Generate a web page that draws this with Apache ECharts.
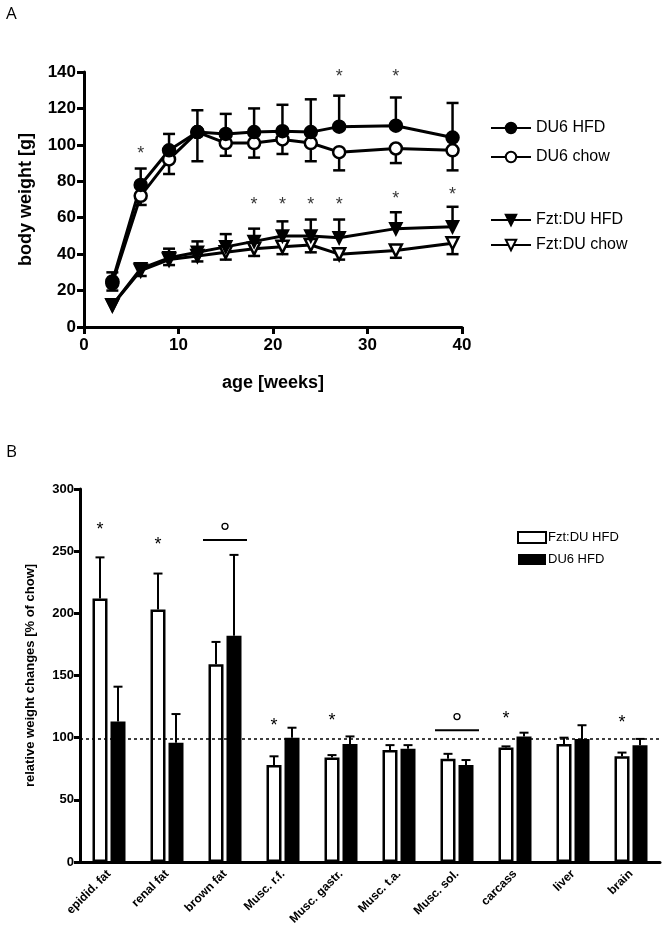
<!DOCTYPE html>
<html>
<head>
<meta charset="utf-8">
<script src="https://cdn.jsdelivr.net/npm/echarts@6/dist/echarts.min.js"></script>
<style>html,body{margin:0;padding:0;background:#fff;}#c{width:670px;height:947px;}</style>
</head>
<body>
<div id="c"></div>
<script>
// ---- Panel A data ----
const weeks = [3, 6, 9, 12, 15, 18, 21, 24, 27, 33, 39];
const du6Hfd = [25, 78, 97, 107, 106, 107, 107.5, 107, 110, 110.5, 104];
const du6HfdErrTop = [30, 87, 106, 119, 117, 120, 122, 125, 127, 126, 123];
const du6Chow = [24, 72, 92, 107, 101, 101, 103, 101, 96, 98, 97];
const du6ChowErrBottom = [20, 67, 84, 91, 94, 93, 95, 91, 86, 90, 86];
const fztHfd = [12, 32, 38, 41, 44, 47, 50, 50, 49, 54, 55];
const fztHfdErrTop = [12, 34, 43, 47, 51, 54, 58, 59, 59, 63, 66];
const fztChow = [12, 31, 37, 39, 41, 43, 44, 45, 40, 42, 46];
const fztChowErrBottom = [12, 28, 34, 36, 37, 39, 40, 41, 37, 38, 40];
const starsA = [[6, 95], [27, 137], [33, 137], [18, 67], [21, 67], [24, 67], [27, 67], [33, 70], [39, 72.5]];

// ---- Panel B data ----
const organs = ['epidid. fat', 'renal fat', 'brown fat', 'Musc. r.f.', 'Musc. gastr.', 'Musc. t.a.', 'Musc. sol.', 'carcass', 'liver', 'brain'];
const fztRel = [212, 203, 159, 78, 84, 90, 83, 92, 95, 85];
const fztRelErr = [245, 232, 177, 85, 86, 94, 87, 93, 100, 88];
const du6Rel = [113, 96, 182, 100, 95, 91, 78, 101, 99, 94];
const du6RelErr = [141, 119, 247, 108, 101, 94, 82, 104, 110, 99];
const starsB = [[0, 267, -1], [1, 255, -1], [3, 109, -1], [4, 113, -1], [7, 115, -1], [9, 112, -1]];
const brackets = [[2, 259], [6, 106]];
const circlesB = [[2, 270], [6, 117]];
const refLevel = 99;

const FONT = 'Liberation Sans, Arial, sans-serif';
const chart = echarts.init(document.getElementById('c'), null, {renderer: 'canvas'});

function errA(params, api) {
  const x = api.value(0), v = api.value(1), e = api.value(2);
  if (e === v) return null;
  const p0 = api.coord([x, v]), p1 = api.coord([x, e]);
  return {type: 'group', children: [
    {type: 'line', shape: {x1: p0[0], y1: p0[1], x2: p1[0], y2: p1[1]}, style: {stroke: '#000', lineWidth: 2.5}},
    {type: 'line', shape: {x1: p1[0] - 6, y1: p1[1], x2: p1[0] + 6, y2: p1[1]}, style: {stroke: '#000', lineWidth: 2.5}}
  ]};
}
function errB(params, api) {
  const c = api.value(0), v = api.value(1), e = api.value(2), side = api.value(3);
  const p0 = api.coord([c, v]), p1 = api.coord([c, e]);
  const off = side * 9;
  const x = p0[0] + off;
  return {type: 'group', children: [
    {type: 'line', shape: {x1: x, y1: p0[1], x2: x, y2: p1[1]}, style: {stroke: '#000', lineWidth: 2}},
    {type: 'line', shape: {x1: x - 4.5, y1: p1[1], x2: x + 4.5, y2: p1[1]}, style: {stroke: '#000', lineWidth: 2}}
  ]};
}
function bracketB(params, api) {
  const c = api.value(0), v = api.value(1);
  const p = api.coord([c, v]);
  return {type: 'line', shape: {x1: p[0] - 22, y1: p[1], x2: p[0] + 22, y2: p[1]}, style: {stroke: '#000', lineWidth: 2}};
}
const zipA = (a, b) => weeks.map((w, i) => [w, a[i], b[i]]);

const lineStyleA = {color: '#000', width: 3};
function lineSeries(name, data, symbol, filled, rotate, size) {
  return {
    type: 'line', name: name, xAxisIndex: 0, yAxisIndex: 0,
    data: weeks.map((w, i) => [w, data[i]]),
    symbol: symbol, symbolSize: size, symbolRotate: rotate, showAllSymbol: true,
    lineStyle: lineStyleA,
    itemStyle: {color: filled ? '#000' : '#fff', borderColor: '#000', borderWidth: 2.5, opacity: 1},
    z: 5, animation: false
  };
}

const axisLineStyle = {lineStyle: {color: '#000', width: 3}};
const option = {
  backgroundColor: '#fff',
  animation: false,
  textStyle: {fontFamily: FONT, color: '#000'},
  graphic: [
    {type: 'text', left: 6, top: 6, style: {text: 'A', font: '17px "Open Sans", sans-serif', fill: '#000'}},
    {type: 'text', left: 6, top: 444, style: {text: 'B', font: '17px "Open Sans", sans-serif', fill: '#000'}}
  ],
  grid: [
    {left: 84, top: 72, width: 378, height: 255},
    {left: 80, top: 489, width: 580, height: 373}
  ],
  legend: [
    {
      left: 490, top: 120, orient: 'vertical', itemGap: 13, itemWidth: 40, itemHeight: 13, padding: 0,
      textStyle: {fontFamily: FONT, fontSize: 16, color: '#000'},
      data: ['DU6 HFD', 'DU6 chow']
    },
    {
      left: 490, top: 212, orient: 'vertical', itemGap: 9, itemWidth: 40, itemHeight: 13, padding: 0,
      textStyle: {fontFamily: FONT, fontSize: 16, color: '#000'},
      data: ['Fzt:DU HFD', 'Fzt:DU chow']
    },
    {
      left: 517, top: 531, orient: 'vertical', itemGap: 9, itemWidth: 28, itemHeight: 11, icon: 'rect', padding: 0,
      textStyle: {fontFamily: FONT, fontSize: 13, color: '#000', padding: [0, 0, 0, -3]},
      data: ['Fzt:DU HFD ', 'DU6 HFD ']
    }
  ],
  xAxis: [
    {
      gridIndex: 0, type: 'value', min: 0, max: 40, interval: 10,
      axisLine: axisLineStyle, axisTick: {length: 7, lineStyle: {width: 3, color: '#000'}},
      axisLabel: {fontFamily: FONT, fontSize: 17, fontWeight: 'bold', color: '#000', margin: 10},
      splitLine: {show: false},
      name: 'age [weeks]', nameLocation: 'middle', nameGap: 47,
      nameTextStyle: {fontFamily: FONT, fontSize: 18, fontWeight: 'bold', color: '#000'}
    },
    {
      gridIndex: 1, type: 'category', data: organs, boundaryGap: true,
      axisLine: axisLineStyle, axisTick: {alignWithLabel: true, length: 6, lineStyle: {width: 3, color: '#000'}},
      axisLabel: {fontFamily: FONT, fontSize: 12, fontWeight: 'bold', color: '#000', rotate: 45, margin: 10, interval: 0},
      splitLine: {show: false}
    }
  ],
  yAxis: [
    {
      gridIndex: 0, type: 'value', min: 0, max: 140, interval: 20,
      axisLine: {show: true, lineStyle: {color: '#000', width: 3}}, axisTick: {show: true, length: 7, lineStyle: {width: 3, color: '#000'}},
      axisLabel: {fontFamily: FONT, fontSize: 17, fontWeight: 'bold', color: '#000', margin: 8},
      splitLine: {show: false},
      name: 'body weight [g]', nameLocation: 'middle', nameGap: 49, nameRotate: 90,
      nameTextStyle: {fontFamily: FONT, fontSize: 18, fontWeight: 'bold', color: '#000'}
    },
    {
      gridIndex: 1, type: 'value', min: 0, max: 300, interval: 50,
      axisLine: {show: true, lineStyle: {color: '#000', width: 3}}, axisTick: {show: true, length: 6, lineStyle: {width: 3, color: '#000'}},
      axisLabel: {fontFamily: FONT, fontSize: 13, fontWeight: 'bold', color: '#000', margin: 6},
      splitLine: {show: false},
      name: 'relative weight changes [% of chow]', nameLocation: 'middle', nameGap: 43, nameRotate: 90,
      nameTextStyle: {fontFamily: FONT, fontSize: 13, fontWeight: 'bold', color: '#000'}
    }
  ],
  series: [
    {type: 'custom', xAxisIndex: 0, yAxisIndex: 0, renderItem: errA, data: zipA(du6Hfd, du6HfdErrTop), z: 2, silent: true},
    {type: 'custom', xAxisIndex: 0, yAxisIndex: 0, renderItem: errA, data: zipA(du6Chow, du6ChowErrBottom), z: 2, silent: true},
    {type: 'custom', xAxisIndex: 0, yAxisIndex: 0, renderItem: errA, data: zipA(fztHfd, fztHfdErrTop), z: 2, silent: true},
    {type: 'custom', xAxisIndex: 0, yAxisIndex: 0, renderItem: errA, data: zipA(fztChow, fztChowErrBottom), z: 2, silent: true},
    lineSeries('DU6 chow', du6Chow, 'circle', false, 0, 12),
    lineSeries('DU6 HFD', du6Hfd, 'circle', true, 0, 12),
    lineSeries('Fzt:DU chow', fztChow, 'triangle', false, 180, 12),
    lineSeries('Fzt:DU HFD', fztHfd, 'triangle', true, 180, 11),
    {
      type: 'scatter', xAxisIndex: 0, yAxisIndex: 0, data: starsA, symbolSize: 0,
      label: {show: true, formatter: '*', position: 'inside', fontFamily: FONT, fontSize: 18, color: '#000'}, z: 6
    },
    // Panel B
    {
      type: 'bar', name: 'Fzt:DU HFD ', xAxisIndex: 1, yAxisIndex: 1, data: fztRel,
      barWidth: 15, barGap: '20%',
      itemStyle: {color: '#fff', borderColor: '#000', borderWidth: 2.5},
      z: 3,
      markLine: {
        silent: true, symbol: 'none', label: {show: false},
        lineStyle: {color: '#000', type: [3, 3], width: 1.5},
        data: [{yAxis: refLevel}]
      }
    },
    {
      type: 'bar', name: 'DU6 HFD ', xAxisIndex: 1, yAxisIndex: 1, data: du6Rel,
      barWidth: 15,
      itemStyle: {color: '#000', borderColor: '#000', borderWidth: 0}, z: 3
    },
    {type: 'custom', xAxisIndex: 1, yAxisIndex: 1, renderItem: errB, data: organs.map((o, i) => [i, fztRel[i], fztRelErr[i], -1]), z: 2, silent: true},
    {type: 'custom', xAxisIndex: 1, yAxisIndex: 1, renderItem: errB, data: organs.map((o, i) => [i, du6Rel[i], du6RelErr[i], 1]), z: 2, silent: true},
    {type: 'custom', xAxisIndex: 1, yAxisIndex: 1, renderItem: bracketB, data: brackets, z: 4, silent: true},
    {
      type: 'custom', xAxisIndex: 1, yAxisIndex: 1, data: starsB, z: 4, silent: true,
      renderItem: function (params, api) {
        const p = api.coord([api.value(0), api.value(1)]);
        return {type: 'text', x: p[0] - 9, y: p[1], style: {text: '*', font: '18px ' + FONT, fill: '#000', align: 'center', verticalAlign: 'middle'}};
      }
    },
    {
      type: 'custom', xAxisIndex: 1, yAxisIndex: 1, data: circlesB, z: 4, silent: true,
      renderItem: function (params, api) {
        const p = api.coord([api.value(0), api.value(1)]);
        return {type: 'circle', shape: {cx: p[0], cy: p[1], r: 3}, style: {fill: 'none', stroke: '#000', lineWidth: 1.3}};
      }
    }
  ]
};
chart.setOption(option);
</script>
</body>
</html>
